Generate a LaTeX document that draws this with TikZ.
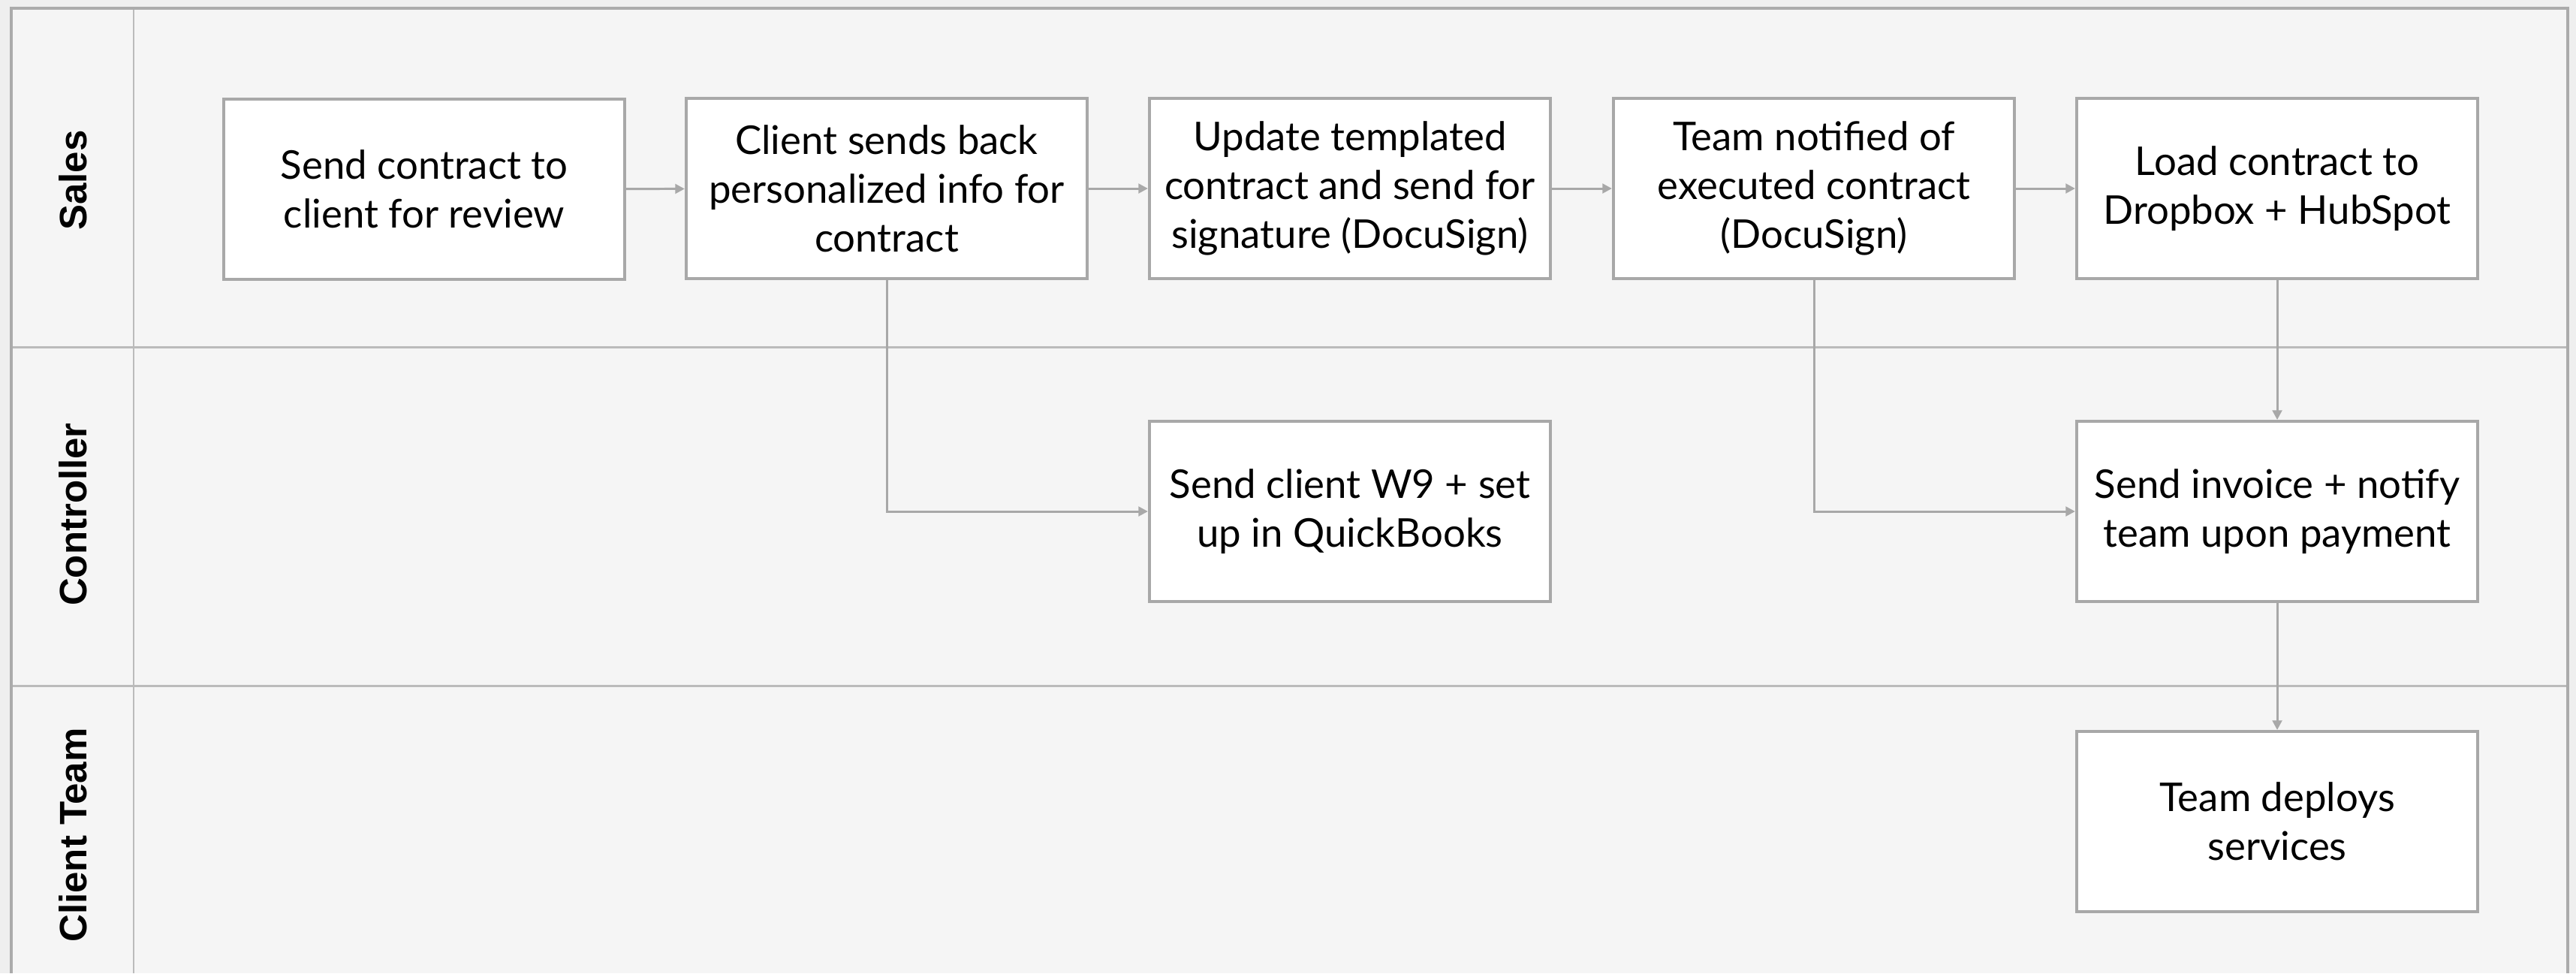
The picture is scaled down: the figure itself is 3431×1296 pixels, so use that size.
\documentclass[tikz,border=0pt]{standalone}
\usepackage{fontspec}
\setmainfont{Lato}
\newfontfamily\lanefont{Liberation Sans}
\usetikzlibrary{arrows.meta}
\definecolor{pagegray}{HTML}{EFEFEF}
\definecolor{lanegray}{HTML}{F5F5F5}
\definecolor{framegray}{HTML}{ABABAB}
\definecolor{rulegray}{HTML}{BBBBBB}
\definecolor{boxgray}{HTML}{A8A8A8}

\begin{document}
\begin{tikzpicture}[x=0.01cm,y=-0.01cm,
  procbox/.style={draw=boxgray, line width=1.1pt, fill=white, minimum width=5.34cm, minimum height=2.4cm, inner sep=0pt, align=center, font=\fontsize{15}{18.5}\selectfont},
  lanelabel/.style={rotate=90, font=\lanefont\bfseries\fontsize{14.5}{17}\selectfont},
  flow/.style={draw=boxgray, line width=0.85pt, -{Triangle[length=3.6pt,width=3.6pt]}}]
%set diagram to the size of the reference
\useasboundingbox (0,0) rectangle (3431,1296);

%Swimlanes
\fill[pagegray] (0,0) rectangle (3431,1296);
\fill[lanegray] (15,11) rectangle (3420,1296);
\draw[rulegray, line width=0.85pt] (178,11) -- (178,1296);
\draw[rulegray, line width=0.85pt] (15,462) -- (3420,462);
\draw[rulegray, line width=0.85pt] (15,913) -- (3420,913);
\draw[framegray, line width=1.1pt] (15,1296) -- (15,11) -- (3420,11) -- (3420,1296);

% Lane labels
\node[lanelabel] (sales) at (97,240) {Sales};
\node[lanelabel] (controller) at (97,685) {Controller};
\node[lanelabel] (clientteam) at (97,1112) {Client Team};

% Sales steps
\node[procbox] (sendcontract) at (565,252) {Send contract to\\client for review};
\node[procbox] (personal) at (1181,251) {Client sends back\\personalized info for\\contract};
\node[procbox] (update) at (1798,251) {Update templated\\contract and send for\\signature (DocuSign)};
\node[procbox] (notified) at (2416,251) {Team notified of\\executed contract\\(DocuSign)};
\node[procbox] (load) at (3033,251) {Load contract to\\Dropbox + HubSpot};

% Controller steps
\node[procbox] (w9) at (1798,681) {Send client W9 + set\\up in QuickBooks};
\node[procbox] (invoice) at (3033,681) {Send invoice + notify\\team upon payment};

% Client team step
\node[procbox] (deploy) at (3033,1094) {Team deploys\\services};

% Connectors
\draw[flow] (sendcontract) -- (personal);
\draw[flow] (personal) -- (update);
\draw[flow] (update) -- (notified);
\draw[flow] (notified) -- (load);
\draw[flow] (personal.south) |- (w9.west);
\draw[flow] (notified.south) |- (invoice.west);
\draw[flow] (load) -- (invoice);
\draw[flow] (invoice) -- (deploy);

\end{tikzpicture}
\end{document}
